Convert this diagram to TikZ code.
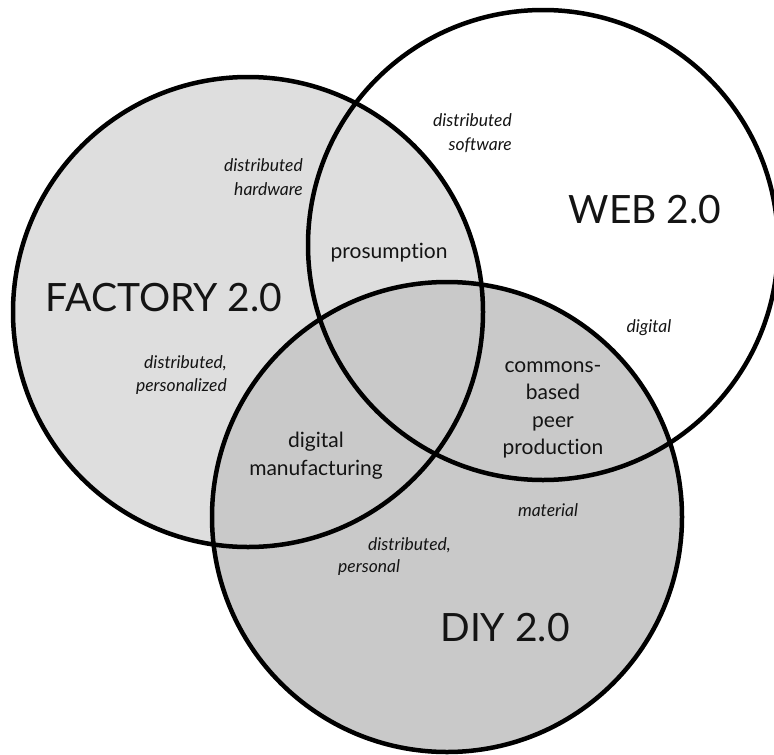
\documentclass[tikz,border=0pt]{standalone}
\usepackage{fontspec}
\setmainfont{Lato}[Ligatures=NoCommon]
\definecolor{facfill}{RGB}{222,222,222}
\definecolor{diyfill}{RGB}{201,201,201}
\definecolor{ink}{RGB}{20,20,20}
\tikzset{
  ring/.style={circle, draw=black, line width=4.5pt, minimum size=470pt, inner sep=0pt},
  bigtitle/.style={font=\fontsize{39}{44}\selectfont, text=ink, inner sep=0pt},
  midlabel/.style={font=\fontsize{21}{28}\selectfont, text=ink, align=center, inner sep=0pt},
  smalllabel/.style={font=\fontsize{17.5}{23.5}\selectfont\itshape, text=ink, inner sep=0pt},
}
\begin{document}
\begin{tikzpicture}[x=1pt,y=-1pt]
\useasboundingbox (0,0) rectangle (774,755);
% fills
\fill[facfill] (248,312) circle[radius=235pt];
\fill[diyfill] (447,517) circle[radius=235pt];
% outlines
\node[ring] (factory) at (248,312) {};
\node[ring] (web) at (543,245) {};
\node[ring] (diy) at (447,517) {};
% titles
\node[bigtitle] (tfac) at (164,298) {FACTORY 2.0};
\node[bigtitle] (tweb) at (645,210) {WEB 2.0};
\node[bigtitle] (tdiy) at (505,628) {DIY 2.0};
% overlap labels
\node[midlabel] (prosum) at (389,253) {prosumption};
\node[midlabel] (digman) at (316,456) {digital\\manufacturing};
\node[midlabel, font=\fontsize{21}{27.5}\selectfont] (cbpp) at (553,410) {commons-\\based\\peer\\production};
% italic labels
\node[smalllabel, align=right, anchor=east] (dhw) at (303,177) {distributed\\hardware};
\node[smalllabel, align=right, anchor=east] (dsw) at (512,133) {distributed\\software};
\node[smalllabel, align=right, anchor=east] (dper) at (227,375) {distributed,\\personalized};
\node[smalllabel] (dig) at (649,328) {digital};
\node[smalllabel] (mat) at (548,510) {material};
\node[smalllabel, anchor=west] (dpl1) at (368,545) {distributed,};
\node[smalllabel, anchor=west] (dpl2) at (338,568) {personal};
\end{tikzpicture}
\end{document}
